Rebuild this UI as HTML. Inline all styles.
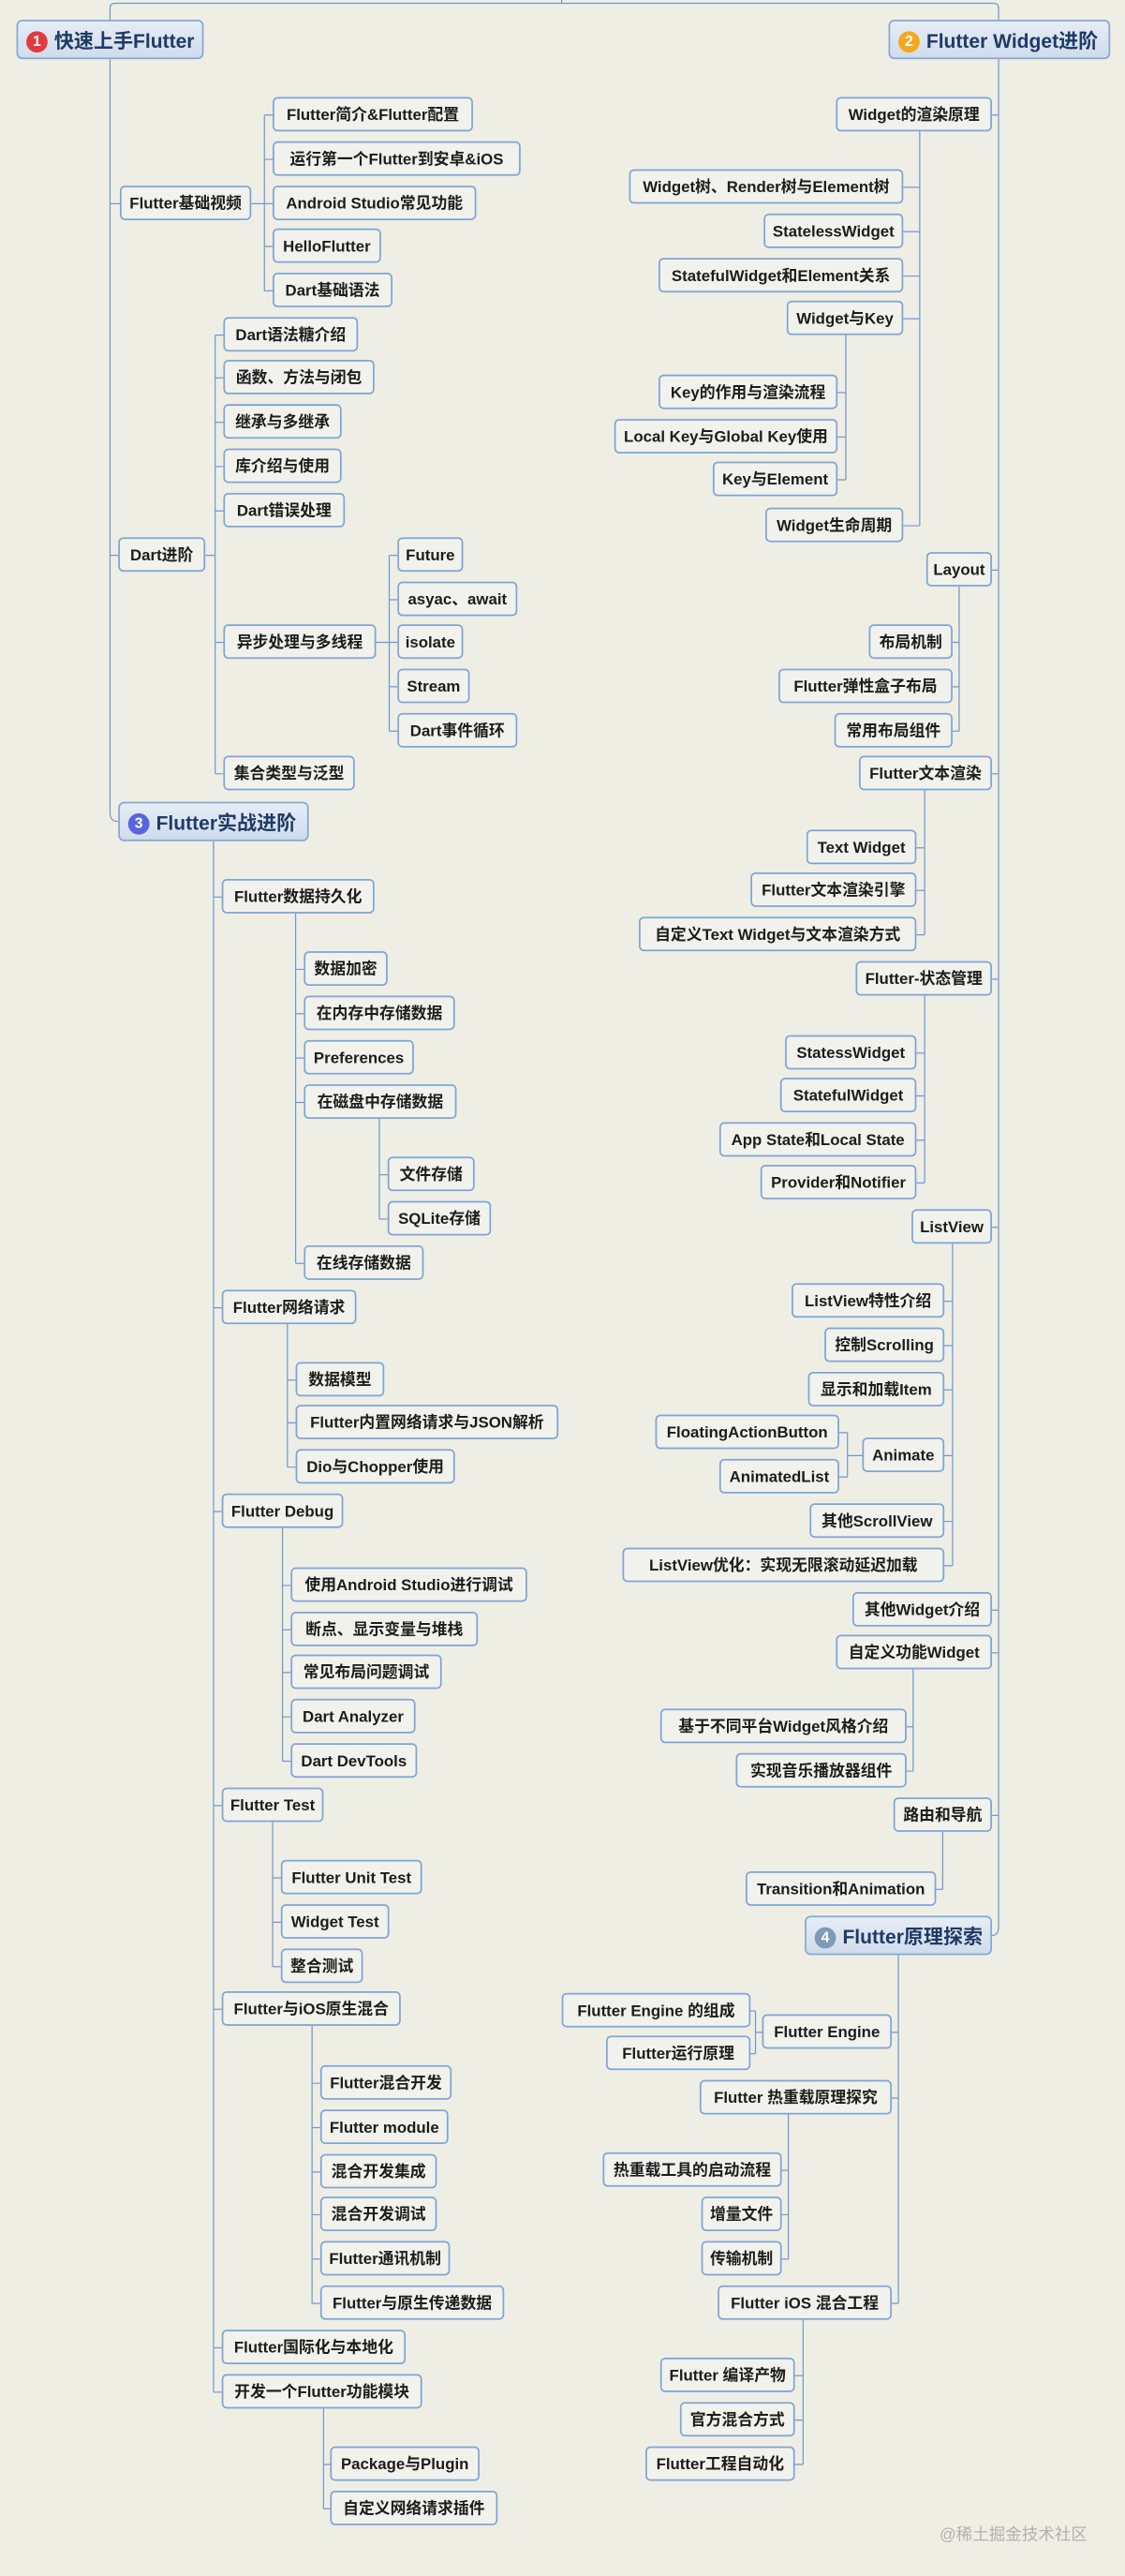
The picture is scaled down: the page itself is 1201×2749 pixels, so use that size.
<!DOCTYPE html>
<html><head><meta charset="utf-8">
<style>
html,body{margin:0;padding:0;background:#eeeee4;}
body{width:1201px;height:2749px;overflow:hidden;position:relative;}
#w{position:absolute;left:0;top:0;width:685px;height:1568px;transform:scale(1.7533);transform-origin:0 0;}
svg{position:absolute;left:0;top:0;}
.n{position:absolute;height:21px;line-height:21px;margin-top:-1px;box-sizing:border-box;border:0.7px solid #7fa4d6;border-radius:3px;background:#f1f2ec;font-family:"Liberation Sans","Noto Sans CJK SC",sans-serif;font-size:9.6px;font-weight:bold;color:#1c1c1c;white-space:nowrap;text-align:center;overflow:visible;}
.r{position:absolute;height:24px;line-height:24px;box-sizing:border-box;border:0.8px solid #86a8d4;border-radius:3.5px;background:linear-gradient(#e6edf5,#cfdcec);font-family:"Liberation Sans","Noto Sans CJK SC",sans-serif;font-size:12px;font-weight:bold;color:#1f3a66;white-space:nowrap;padding-left:22px;}
.r i{position:absolute;left:5px;top:5.5px;width:13px;height:13px;border-radius:50%;color:#fff;font-style:normal;font-size:9px;line-height:13px;text-align:center;}
.wm{position:absolute;left:572px;top:1534px;font-family:"Liberation Sans","Noto Sans CJK SC",sans-serif;font-size:10px;color:#b0b0b0;white-space:nowrap;}
</style></head><body><div id="w">
<svg width="685" height="1568" viewBox="0 0 685 1568" fill="none" stroke="#7099cf" stroke-width="0.7">
<path d="M342,0V2 M67,12V5Q67,2 70,2H605Q608,2 608,5V12"/>
<path d="M67,36V495Q67,500 72,500 M67,124H73 M67,338H72"/>
<path d="M153,124H161 M161,70V177 M161,70H166 M161,97H166 M161,124H166 M161,150H166 M161,177H166"/>
<path d="M125,338H131 M131,204V471 M131,204H136 M131,230H136 M131,257H136 M131,284H136 M131,311H136 M131,391H136 M131,471H136"/>
<path d="M229,391H237 M237,338V445 M237,338H242 M237,365H242 M237,391H242 M237,418H242 M237,445H242"/>
<path d="M130,512V1456 M130,546H135 M130,796H135 M130,920H135 M130,1099H135 M130,1223H135 M130,1429H135 M130,1456H135"/>
<path d="M180,556V769 M180,590H185 M180,617H185 M180,644H185 M180,671H185 M180,769H185"/>
<path d="M231,681V742 M231,715H236 M231,742H236"/>
<path d="M175,806V893 M175,840H180 M175,866H180 M175,893H180"/>
<path d="M172,930V1072 M172,965H177 M172,992H177 M172,1018H177 M172,1045H177 M172,1072H177"/>
<path d="M166,1109V1197 M166,1143H171 M166,1170H171 M166,1197H171"/>
<path d="M190,1233V1402 M190,1268H195 M190,1295H195 M190,1322H195 M190,1348H195 M190,1375H195 M190,1402H195"/>
<path d="M197,1466V1527 M197,1500H201 M197,1527H201"/>
<path d="M608,36V1173Q608,1178 604,1178 M604,70H608 M604,347H608 M604,471H608 M604,596H608 M604,747H608 M604,980H608 M604,1006H608 M604,1105H608"/>
<path d="M560,80V320 M550,114H560 M550,141H560 M550,168H560 M550,194H560 M550,320H560"/>
<path d="M515,204V292 M510,239H515 M510,266H515 M510,292H515"/>
<path d="M584,357V445 M580,391H584 M580,418H584 M580,445H584"/>
<path d="M563,481V569 M558,516H563 M558,542H563 M558,569H563"/>
<path d="M563,606V720 M558,641H563 M558,667H563 M558,694H563 M558,720H563"/>
<path d="M580,757V953 M575,792H580 M575,819H580 M575,846H580 M575,886H580 M575,926H580 M575,953H580"/>
<path d="M525,886H516 M516,872V899 M511,872H516 M511,899H516"/>
<path d="M556,1016V1078 M552,1051H556 M552,1078H556"/>
<path d="M574,1115V1150 M570,1150H574"/>
<path d="M547,1190V1402 M543,1237H547 M543,1277H547 M543,1402H547"/>
<path d="M464,1237H460 M460,1224V1250 M457,1224H460 M457,1250H460"/>
<path d="M480,1287V1375 M476,1321H480 M476,1348H480 M476,1375H480"/>
<path d="M489,1412V1500 M484,1446H489 M484,1473H489 M484,1500H489"/>
</svg>

<div class="r" style="left:10px;top:12px;width:114px"><i style="background:#e23b3f">1</i>快速上手Flutter</div>
<div class="r" style="left:541px;top:12px;width:135px"><i style="background:#f4a81f">2</i>Flutter Widget进阶</div>
<div class="r" style="left:72px;top:488px;width:116px"><i style="background:#5865e0">3</i>Flutter实战进阶</div>
<div class="r" style="left:490px;top:1166px;width:114px"><i style="background:#7d9bb6">4</i>Flutter原理探索</div>

<div class="n" style="left:73px;top:114px;width:80px">Flutter基础视频</div>
<div class="n" style="left:166px;top:60px;width:122px">Flutter简介&amp;Flutter配置</div>
<div class="n" style="left:166px;top:87px;width:151px">运行第一个Flutter到安卓&amp;iOS</div>
<div class="n" style="left:166px;top:114px;width:124px">Android Studio常见功能</div>
<div class="n" style="left:166px;top:140px;width:66px">HelloFlutter</div>
<div class="n" style="left:166px;top:167px;width:73px">Dart基础语法</div>

<div class="n" style="left:72px;top:328px;width:53px">Dart进阶</div>
<div class="n" style="left:136px;top:194px;width:82px">Dart语法糖介绍</div>
<div class="n" style="left:136px;top:220px;width:92px">函数、方法与闭包</div>
<div class="n" style="left:136px;top:247px;width:72px">继承与多继承</div>
<div class="n" style="left:136px;top:274px;width:72px">库介绍与使用</div>
<div class="n" style="left:136px;top:301px;width:74px">Dart错误处理</div>
<div class="n" style="left:136px;top:381px;width:93px">异步处理与多线程</div>
<div class="n" style="left:136px;top:461px;width:80px">集合类型与泛型</div>
<div class="n" style="left:242px;top:328px;width:40px">Future</div>
<div class="n" style="left:242px;top:355px;width:73px">asyac、await</div>
<div class="n" style="left:242px;top:381px;width:40px">isolate</div>
<div class="n" style="left:242px;top:408px;width:44px">Stream</div>
<div class="n" style="left:242px;top:435px;width:73px">Dart事件循环</div>

<div class="n" style="left:135px;top:536px;width:93px">Flutter数据持久化</div>
<div class="n" style="left:185px;top:580px;width:51px">数据加密</div>
<div class="n" style="left:185px;top:607px;width:92px">在内存中存储数据</div>
<div class="n" style="left:185px;top:634px;width:67px">Preferences</div>
<div class="n" style="left:185px;top:661px;width:93px">在磁盘中存储数据</div>
<div class="n" style="left:236px;top:705px;width:53px">文件存储</div>
<div class="n" style="left:236px;top:732px;width:63px">SQLite存储</div>
<div class="n" style="left:185px;top:759px;width:73px">在线存储数据</div>

<div class="n" style="left:135px;top:786px;width:82px">Flutter网络请求</div>
<div class="n" style="left:180px;top:830px;width:54px">数据模型</div>
<div class="n" style="left:180px;top:856px;width:160px">Flutter内置网络请求与JSON解析</div>
<div class="n" style="left:180px;top:883px;width:97px">Dio与Chopper使用</div>

<div class="n" style="left:135px;top:910px;width:74px">Flutter Debug</div>
<div class="n" style="left:177px;top:955px;width:144px">使用Android Studio进行调试</div>
<div class="n" style="left:177px;top:982px;width:114px">断点、显示变量与堆栈</div>
<div class="n" style="left:177px;top:1008px;width:92px">常见布局问题调试</div>
<div class="n" style="left:177px;top:1035px;width:76px">Dart Analyzer</div>
<div class="n" style="left:177px;top:1062px;width:77px">Dart DevTools</div>

<div class="n" style="left:135px;top:1089px;width:62px">Flutter Test</div>
<div class="n" style="left:171px;top:1133px;width:86px">Flutter Unit Test</div>
<div class="n" style="left:171px;top:1160px;width:66px">Widget Test</div>
<div class="n" style="left:171px;top:1187px;width:50px">整合测试</div>

<div class="n" style="left:135px;top:1213px;width:109px">Flutter与iOS原生混合</div>
<div class="n" style="left:195px;top:1258px;width:80px">Flutter混合开发</div>
<div class="n" style="left:195px;top:1285px;width:78px">Flutter module</div>
<div class="n" style="left:195px;top:1312px;width:71px">混合开发集成</div>
<div class="n" style="left:195px;top:1338px;width:71px">混合开发调试</div>
<div class="n" style="left:195px;top:1365px;width:79px">Flutter通讯机制</div>
<div class="n" style="left:195px;top:1392px;width:112px">Flutter与原生传递数据</div>
<div class="n" style="left:135px;top:1419px;width:112px">Flutter国际化与本地化</div>
<div class="n" style="left:135px;top:1446px;width:122px">开发一个Flutter功能模块</div>
<div class="n" style="left:201px;top:1490px;width:91px">Package与Plugin</div>
<div class="n" style="left:201px;top:1517px;width:102px">自定义网络请求插件</div>

<div class="n" style="left:509px;top:60px;width:95px">Widget的渲染原理</div>
<div class="n" style="left:383px;top:104px;width:167px">Widget树、Render树与Element树</div>
<div class="n" style="left:465px;top:131px;width:85px">StatelessWidget</div>
<div class="n" style="left:401px;top:158px;width:149px">StatefulWidget和Element关系</div>
<div class="n" style="left:479px;top:184px;width:71px">Widget与Key</div>
<div class="n" style="left:401px;top:229px;width:109px">Key的作用与渲染流程</div>
<div class="n" style="left:374px;top:256px;width:136px">Local Key与Global Key使用</div>
<div class="n" style="left:434px;top:282px;width:76px">Key与Element</div>
<div class="n" style="left:466px;top:310px;width:84px">Widget生命周期</div>

<div class="n" style="left:564px;top:337px;width:40px">Layout</div>
<div class="n" style="left:529px;top:381px;width:51px">布局机制</div>
<div class="n" style="left:474px;top:408px;width:106px">Flutter弹性盒子布局</div>
<div class="n" style="left:508px;top:435px;width:72px">常用布局组件</div>

<div class="n" style="left:523px;top:461px;width:81px">Flutter文本渲染</div>
<div class="n" style="left:491px;top:506px;width:67px">Text Widget</div>
<div class="n" style="left:457px;top:532px;width:101px">Flutter文本渲染引擎</div>
<div class="n" style="left:389px;top:559px;width:169px">自定义Text Widget与文本渲染方式</div>

<div class="n" style="left:521px;top:586px;width:83px">Flutter-状态管理</div>
<div class="n" style="left:478px;top:631px;width:80px">StatessWidget</div>
<div class="n" style="left:475px;top:657px;width:83px">StatefulWidget</div>
<div class="n" style="left:438px;top:684px;width:120px">App State和Local State</div>
<div class="n" style="left:463px;top:710px;width:95px">Provider和Notifier</div>

<div class="n" style="left:555px;top:737px;width:49px">ListView</div>
<div class="n" style="left:482px;top:782px;width:93px">ListView特性介绍</div>
<div class="n" style="left:502px;top:809px;width:73px">控制Scrolling</div>
<div class="n" style="left:492px;top:836px;width:83px">显示和加载Item</div>
<div class="n" style="left:525px;top:876px;width:50px">Animate</div>
<div class="n" style="left:399px;top:862px;width:112px">FloatingActionButton</div>
<div class="n" style="left:438px;top:889px;width:73px">AnimatedList</div>
<div class="n" style="left:493px;top:916px;width:82px">其他ScrollView</div>
<div class="n" style="left:379px;top:943px;width:196px">ListView优化：实现无限滚动延迟加载</div>

<div class="n" style="left:519px;top:970px;width:85px">其他Widget介绍</div>
<div class="n" style="left:509px;top:996px;width:95px">自定义功能Widget</div>
<div class="n" style="left:402px;top:1041px;width:150px">基于不同平台Widget风格介绍</div>
<div class="n" style="left:448px;top:1068px;width:104px">实现音乐播放器组件</div>
<div class="n" style="left:544px;top:1095px;width:60px">路由和导航</div>
<div class="n" style="left:454px;top:1140px;width:116px">Transition和Animation</div>

<div class="n" style="left:464px;top:1227px;width:79px">Flutter Engine</div>
<div class="n" style="left:342px;top:1214px;width:115px">Flutter Engine 的组成</div>
<div class="n" style="left:369px;top:1240px;width:88px">Flutter运行原理</div>
<div class="n" style="left:426px;top:1267px;width:117px">Flutter 热重载原理探究</div>
<div class="n" style="left:367px;top:1311px;width:109px">热重载工具的启动流程</div>
<div class="n" style="left:427px;top:1338px;width:49px">增量文件</div>
<div class="n" style="left:427px;top:1365px;width:49px">传输机制</div>
<div class="n" style="left:437px;top:1392px;width:106px">Flutter iOS 混合工程</div>
<div class="n" style="left:402px;top:1436px;width:82px">Flutter 编译产物</div>
<div class="n" style="left:414px;top:1463px;width:70px">官方混合方式</div>
<div class="n" style="left:393px;top:1490px;width:91px">Flutter工程自动化</div>

<div class="wm">@稀土掘金技术社区</div>
</div></body></html>
